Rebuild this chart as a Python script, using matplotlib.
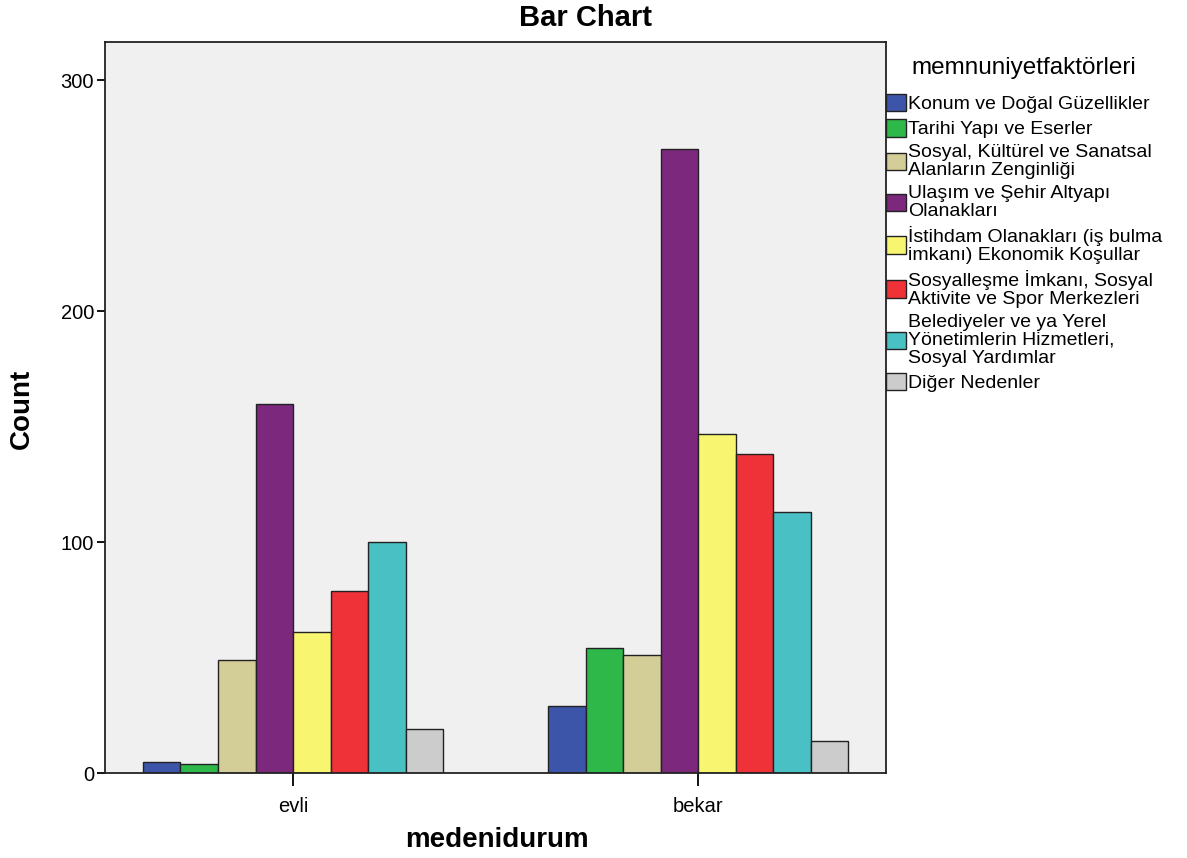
import numpy as np
import matplotlib
matplotlib.use("Agg")
import matplotlib.pyplot as plt

plt.rcParams['font.family'] = ['Liberation Sans', 'DejaVu Sans']

# veriler
gruplar = ['evli', 'bekar']
faktorler = ['Konum ve Doğal Güzellikler',
             'Tarihi Yapı ve Eserler',
             'Sosyal, Kültürel ve Sanatsal\nAlanların Zenginliği',
             'Ulaşım ve Şehir Altyapı\nOlanakları',
             'İstihdam Olanakları (iş bulma\nimkanı) Ekonomik Koşullar',
             'Sosyalleşme İmkanı, Sosyal\nAktivite ve Spor Merkezleri',
             'Belediyeler ve ya Yerel\nYönetimlerin Hizmetleri,\nSosyal Yardımlar',
             'Diğer Nedenler']
evli = [5, 4, 49, 160, 61, 79, 100, 19]
bekar = [29, 54, 51, 270, 147, 138, 113, 14]
renkler = ['#3D55A8', '#2EB84A', '#D3CE97', '#7B287D',
           '#F8F670', '#EE3238', '#48C0C4', '#CCCCCC']

fig = plt.figure(figsize=(11.87, 8.58), dpi=100)
ax = fig.add_axes([0.0885, 0.099, 0.658, 0.852])
ax.set_facecolor('#F0F0F0')

x = np.arange(len(gruplar))
w = 0.0926
veri = np.array([evli, bekar])
handles = []
for i in range(len(faktorler)):
    b = ax.bar(x + (i - 3.5) * w, veri[:, i], width=w, color=renkler[i],
               edgecolor='#222222', linewidth=1.0, label=faktorler[i])
    handles.append(b)

ax.set_xlim(-0.464, 1.464)
ax.set_ylim(0, 316.5)
ax.set_yticks([0, 100, 200, 300])
ax.set_xticks(x)
ax.set_xticklabels(gruplar)
ax.tick_params(axis='y', length=6, width=1.3, labelsize=14.5, pad=2)
ax.tick_params(axis='x', length=9, width=1.3, labelsize=14.5, pad=8)
for s in ax.spines.values():
    s.set_linewidth(1.3)
    s.set_color('#222222')

# eksen başlıkları
fig.text(22 / 1187, 1 - 409 / 858, 'Count', rotation=90, fontsize=20,
         fontweight='bold', ha='center', va='center')
fig.text(497 / 1187, 1 - 840 / 858, 'medenidurum', fontsize=20,
         fontweight='bold', ha='center', va='center')
fig.suptitle('Bar Chart', x=0.493, y=0.995, fontsize=21, fontweight='bold')

leg = ax.legend(handles=handles, loc='upper left', bbox_to_anchor=(1.0, 0.98),
                frameon=False, fontsize=14, title='memnuniyetfaktörleri',
                title_fontsize=17.5, handlelength=1.0, handleheight=1.0,
                handletextpad=0.12, labelspacing=0.3, borderaxespad=0.0,
                borderpad=0.0)
for t in leg.get_texts():
    t.set_linespacing(1.08)
leg._legend_box.sep = 11

fig.savefig('out.png', dpi=100)
